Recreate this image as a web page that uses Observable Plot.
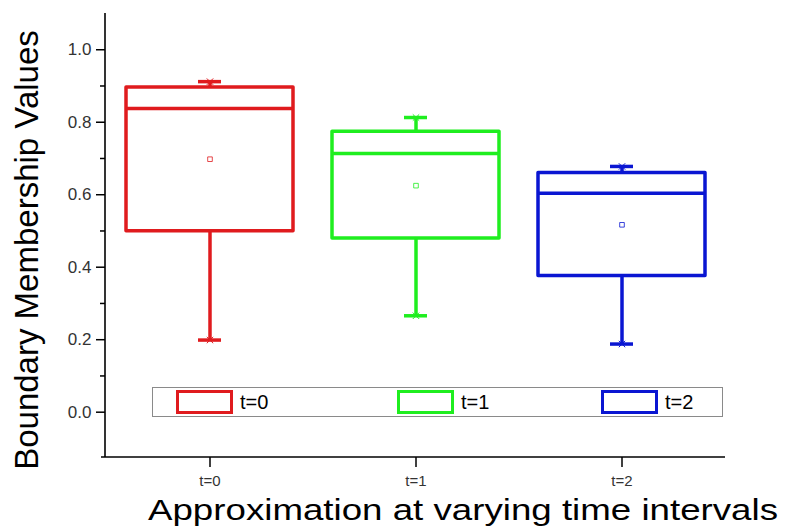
<!DOCTYPE html>
<html>
<head>
<meta charset="utf-8">
<script src="https://cdn.jsdelivr.net/npm/d3@7"></script>
<script src="https://cdn.jsdelivr.net/npm/@observablehq/plot@0.6"></script>
<style>
  body { margin: 0; background: #fff; }
  #wrap { position: relative; width: 805px; height: 527px; font-family: Arial, "Liberation Sans", sans-serif; }
  #legend { position: absolute; left: 152px; top: 387px; width: 569px; height: 28px; border: 1px solid #8a8a8a; background: #fff; }
  .item { position: absolute; top: 2px; height: 24px; }
  .sw { position: absolute; top: 0; width: 51px; height: 18px; border: 3px solid; }
  .lb { position: absolute; top: -1px; font-size: 20px; color: #000; line-height: 26px; white-space: nowrap; }
</style>
</head>
<body>
<div id="wrap"></div>
<script>
const categories = ["t=0", "t=1", "t=2"];
const lowerWhisker = [0.199, 0.266, 0.188];
const q1 = [0.499, 0.479, 0.376];
const median = [0.838, 0.714, 0.604];
const q3 = [0.896, 0.774, 0.660];
const upperWhisker = [0.912, 0.813, 0.678];
const mean = [0.698, 0.625, 0.517];
const colors = ["#e01b1e", "#1fee1f", "#0a16d2"];
const yTicks = [0, 0.2, 0.4, 0.6, 0.8, 1.0];
const yMinorTicks = [0.1, 0.3, 0.5, 0.7, 0.9];

const rows = categories.map((c, i) => ({
  cat: c, lo: lowerWhisker[i], q1: q1[i], med: median[i], q3: q3[i], hi: upperWhisker[i], mean: mean[i], color: colors[i]
}));

const plot = Plot.plot({
  width: 805,
  height: 527,
  marginLeft: 105,
  marginRight: 80,
  marginTop: 13,
  marginBottom: 70,
  style: { fontFamily: "Arial, 'Liberation Sans', sans-serif", background: "#fff", color: "#333" },
  x: { type: "band", domain: categories, paddingInner: 0.19, paddingOuter: 0.095 },
  y: { domain: [-0.125, 1.1] },
  marks: [
    Plot.ruleX(rows, { x: "cat", y1: "lo", y2: "q1", stroke: "color", strokeWidth: 3.5 }),
    Plot.ruleX(rows, { x: "cat", y1: "q3", y2: "hi", stroke: "color", strokeWidth: 3.5 }),
    Plot.tickY(rows, { x: "cat", y: "lo", stroke: "color", strokeWidth: 3.5, insetLeft: 72, insetRight: 72 }),
    Plot.tickY(rows, { x: "cat", y: "hi", stroke: "color", strokeWidth: 3.5, insetLeft: 72, insetRight: 72 }),
    Plot.dot(rows, { x: "cat", y: "lo", symbol: "times", r: 3, stroke: "color", strokeWidth: 1 }),
    Plot.dot(rows, { x: "cat", y: "hi", symbol: "times", r: 3, stroke: "color", strokeWidth: 1 }),
    Plot.barY(rows, { x: "cat", y1: "q1", y2: "q3", fill: "#fff", stroke: "color", strokeWidth: 3.5, strokeLinejoin: "round" }),
    Plot.tickY(rows, { x: "cat", y: "med", stroke: "color", strokeWidth: 3.5 }),
    Plot.dot(rows, { x: "cat", y: "mean", symbol: "square", r: 2.6, stroke: "color", strokeWidth: 0.8, fill: "none" }),
    Plot.axisY({ ticks: yTicks, tickFormat: d3.format(".1f"), tickSize: 9, tickPadding: 5, label: null, stroke: "#000", strokeWidth: 1.5 }),
    Plot.axisY({ ticks: yMinorTicks, tickFormat: () => "", tickSize: 5, label: null, stroke: "#000", strokeWidth: 1.5 }),
    Plot.axisX({ tickSize: 10, tickPadding: 8, label: null, stroke: "#000", strokeWidth: 1.5 })
  ]
});

const svg = d3.select(plot);
const xs = plot.scale("x");
const ys = plot.scale("y");
const xr = xs.range;
const yr = ys.range;
// axis lines
svg.append("line")
  .attr("x1", xr[0]).attr("x2", xr[0]).attr("y1", yr[0]).attr("y2", yr[1])
  .attr("stroke", "#000").attr("stroke-width", 1.6);
svg.append("line")
  .attr("x1", xr[0] - 4).attr("x2", xr[1]).attr("y1", yr[0]).attr("y2", yr[0])
  .attr("stroke", "#000").attr("stroke-width", 1.6);

// tick label sizes
const yLabelSet = new Set(yTicks.map(d3.format(".1f")));
svg.selectAll("text").each(function () {
  const t = this.textContent;
  if (categories.includes(t)) d3.select(this).style("font-size", "15px").style("fill", "#333");
  else if (yLabelSet.has(t)) d3.select(this).style("font-size", "17px").style("fill", "#333");
});

svg.append("text")
  .attr("transform", "translate(38,250) rotate(-90)")
  .attr("text-anchor", "middle")
  .style("font-size", "33px")
  .attr("fill", "#000")
  .text("Boundary Membership Values");
svg.append("text")
  .attr("x", 148)
  .attr("y", 520)
  .attr("text-anchor", "start")
  .style("font-size", "29px")
  .attr("fill", "#000")
  .attr("textLength", 630)
  .attr("lengthAdjust", "spacingAndGlyphs")
  .text("Approximation at varying time intervals");

const wrap = document.getElementById("wrap");
wrap.appendChild(plot);

const legend = document.createElement("div");
legend.id = "legend";
const swLeft = [23, 244, 448];
categories.forEach((c, i) => {
  const item = document.createElement("div");
  item.className = "item";
  item.style.left = swLeft[i] + "px";
  const sw = document.createElement("div");
  sw.className = "sw";
  sw.style.borderColor = colors[i];
  const lb = document.createElement("div");
  lb.className = "lb";
  lb.style.left = "64px";
  lb.textContent = c;
  item.appendChild(sw);
  item.appendChild(lb);
  legend.appendChild(item);
});
wrap.appendChild(legend);
</script>
</body>
</html>
